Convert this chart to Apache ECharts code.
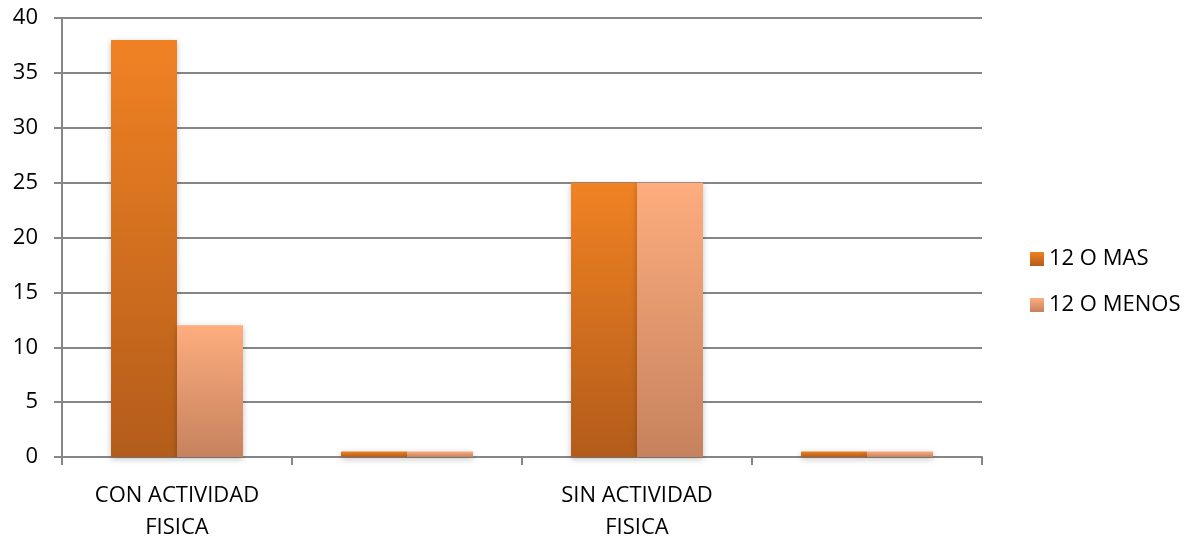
<!DOCTYPE html>
<html>
<head>
<meta charset="utf-8">
<script src="https://cdn.jsdelivr.net/npm/echarts@6/dist/echarts.min.js"></script>
<style>
  html, body { margin: 0; padding: 0; background: #fff; overflow: hidden; }
  #chart { position: absolute; left: 0; top: 0; width: 1196px; height: 544px; }
</style>
</head>
<body>
<div id="chart"></div>
<script>
// Categories (the blank ones are spacer groups in the original workbook)
const categories = ['CON ACTIVIDAD\nFISICA', '', 'SIN ACTIVIDAD\nFISICA', ''];
const seriesNames = ['12 O MAS', '12 O MENOS'];
const docePlus = [38, 0.5, 25, 0.5];
const doceMenos = [12, 0.5, 25, 0.5];
const yTicks = [0, 5, 10, 15, 20, 25, 30, 35, 40];

const FONT = '"Open Sans", "Liberation Sans", sans-serif';

function grad(top, bottom) {
  return new echarts.graphic.LinearGradient(0, 0, 0, 1, [
    { offset: 0, color: top },
    { offset: 1, color: bottom }
  ]);
}

const chart = echarts.init(document.getElementById('chart'), null, { renderer: 'canvas', width: 1196, height: 544 });
chart.setOption({
  animation: false,
  backgroundColor: '#ffffff',
  grid: { left: 62, right: 214, top: 18, bottom: 79, containLabel: false },
  legend: {
    orient: 'vertical',
    left: 1025,
    top: 241,
    itemWidth: 14,
    itemHeight: 14,
    itemGap: 20,
    icon: 'rect',
    textStyle: { fontFamily: FONT, fontSize: 22, lineHeight: 26, color: '#000' },
    data: seriesNames
  },
  xAxis: {
    type: 'category',
    data: categories,
    boundaryGap: true,
    axisLine: { lineStyle: { color: '#868686', width: 2 } },
    axisTick: { show: true, length: 8, lineStyle: { color: '#868686', width: 2 } },
    axisLabel: {
      interval: 0,
      margin: 23,
      fontFamily: FONT,
      fontSize: 22,
      lineHeight: 32,
      color: '#000'
    }
  },
  yAxis: {
    type: 'value',
    min: 0,
    max: 40,
    interval: 5,
    axisLine: { show: true, lineStyle: { color: '#868686', width: 2 } },
    axisTick: { show: true, length: 8, lineStyle: { color: '#868686', width: 2 } },
    splitLine: { lineStyle: { color: '#868686', width: 2 } },
    axisLabel: {
      margin: 24,
      fontFamily: FONT,
      fontSize: 22,
      color: '#000',
      formatter: v => (yTicks.includes(v) ? String(v) : '')
    }
  },
  series: [
    {
      name: seriesNames[0],
      type: 'bar',
      data: docePlus,
      barWidth: 66,
      barGap: '0%',
      itemStyle: {
        color: grad('#f08223', '#b35c1a'),
        shadowColor: 'rgba(0,0,0,0.25)',
        shadowBlur: 6,
        shadowOffsetY: 2
      }
    },
    {
      name: seriesNames[1],
      type: 'bar',
      data: doceMenos,
      barWidth: 66,
      barGap: '0%',
      itemStyle: {
        color: grad('#fdad7e', '#c6825d'),
        shadowColor: 'rgba(0,0,0,0.25)',
        shadowBlur: 6,
        shadowOffsetY: 2
      }
    }
  ]
});
</script>
</body>
</html>
